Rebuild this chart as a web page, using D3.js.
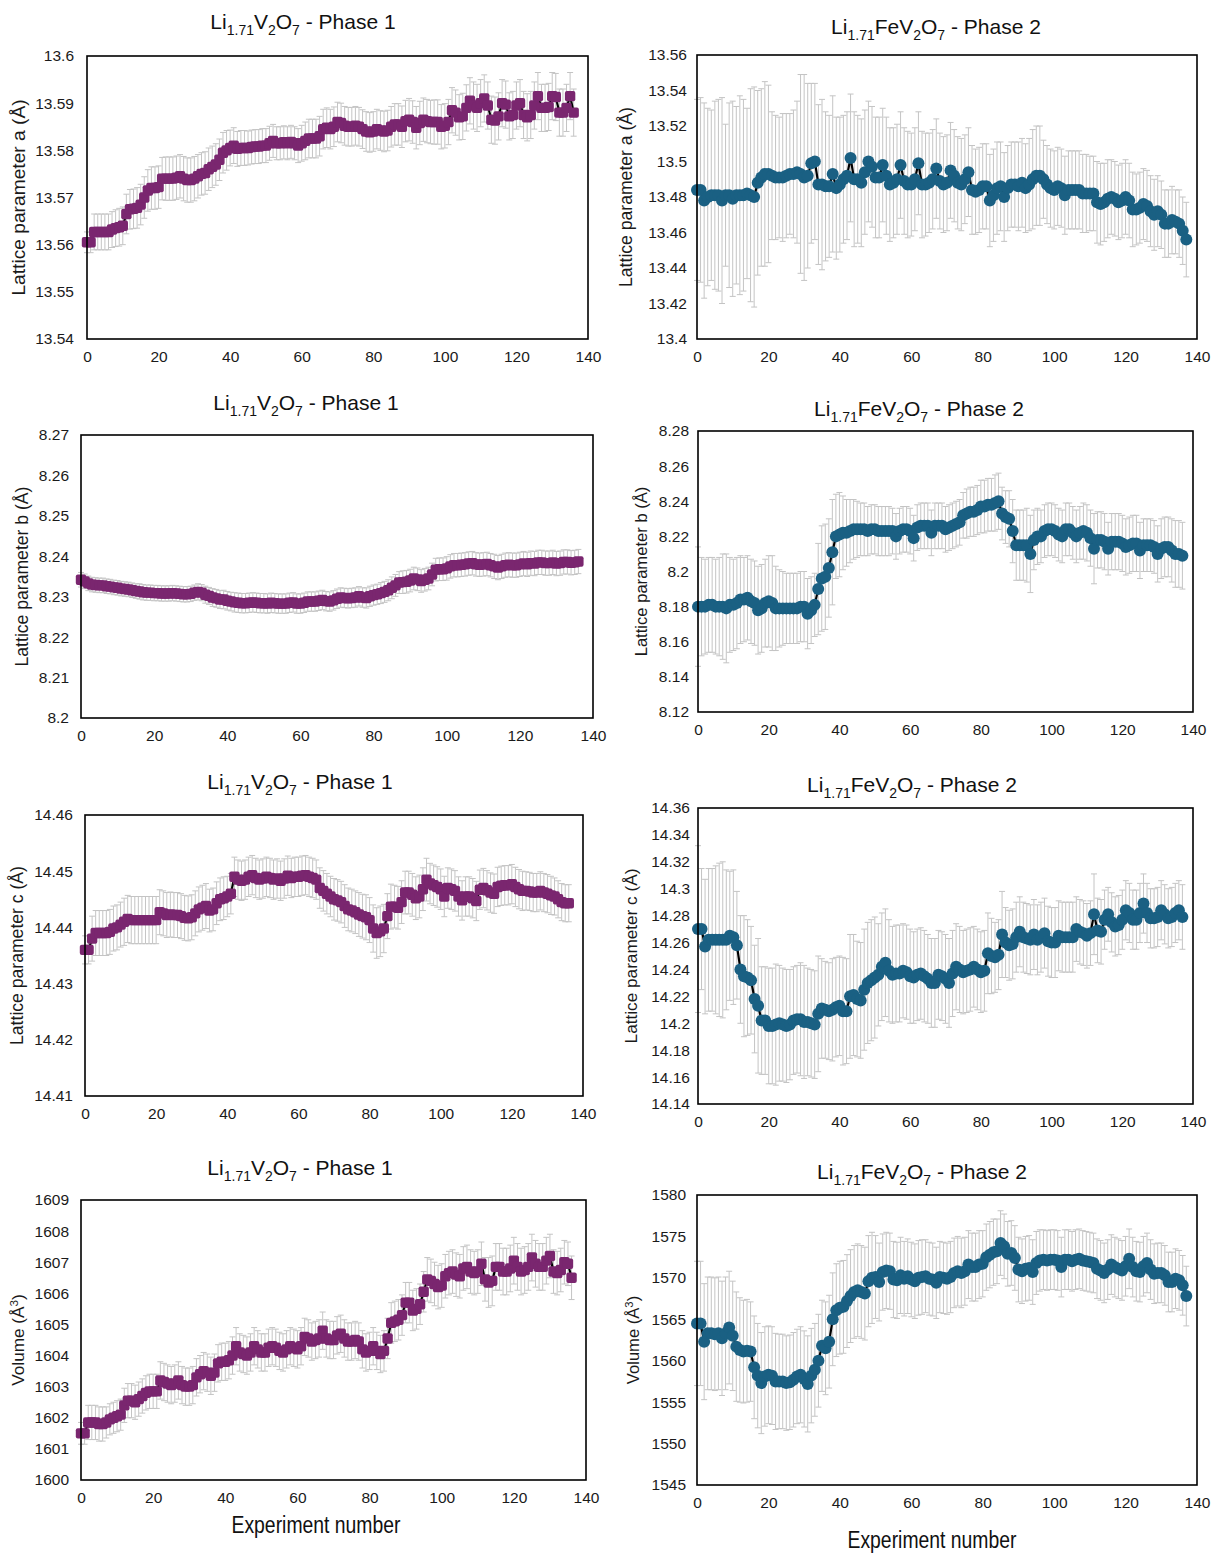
<!DOCTYPE html>
<html><head><meta charset="utf-8">
<script src="https://cdn.jsdelivr.net/npm/d3@7"></script>
<style>body{margin:0;background:#fff}svg{display:block}</style>
</head><body>
<script>
// ---------------- DATA ----------------
const xTickLabels = ["0","20","40","60","80","100","120","140"];

const aP1Ticks = ["13.54","13.55","13.56","13.57","13.58","13.59","13.6"];
const aP2Ticks = ["13.4","13.42","13.44","13.46","13.48","13.5","13.52","13.54","13.56"];
const bP1Ticks = ["8.2","8.21","8.22","8.23","8.24","8.25","8.26","8.27"];
const bP2Ticks = ["8.12","8.14","8.16","8.18","8.2","8.22","8.24","8.26","8.28"];
const cP1Ticks = ["14.41","14.42","14.43","14.44","14.45","14.46"];
const cP2Ticks = ["14.14","14.16","14.18","14.2","14.22","14.24","14.26","14.28","14.3","14.32","14.34","14.36"];
const vP1Ticks = ["1600","1601","1602","1603","1604","1605","1606","1607","1608","1609"];
const vP2Ticks = ["1545","1550","1555","1560","1565","1570","1575","1580"];

// Phase 1 : experiments 0..136, Phase 2 : experiments 0..137
const aP1 = [13.5605,13.5605,13.5627,13.5627,13.5627,13.5627,13.5627,13.5632,13.5635,13.5637,
13.5640,13.5665,13.5675,13.5676,13.5678,13.5685,13.5700,13.5715,13.5720,13.5720,
13.5722,13.5740,13.5740,13.5740,13.5740,13.5742,13.5745,13.5740,13.5737,13.5737,
13.5740,13.5745,13.5750,13.5752,13.5760,13.5765,13.5770,13.5780,13.5795,13.5800,
13.5805,13.5810,13.5803,13.5805,13.5805,13.5805,13.5807,13.5808,13.5808,13.5810,
13.5810,13.5815,13.5820,13.5815,13.5815,13.5817,13.5815,13.5818,13.5815,13.5810,
13.5815,13.5820,13.5825,13.5825,13.5825,13.5830,13.5845,13.5848,13.5845,13.5850,
13.5860,13.5858,13.5852,13.5850,13.5850,13.5852,13.5850,13.5845,13.5840,13.5838,
13.5840,13.5845,13.5842,13.5840,13.5842,13.5850,13.5855,13.5855,13.5850,13.5862,
13.5865,13.5860,13.5848,13.5858,13.5865,13.5862,13.5860,13.5860,13.5860,13.5850,
13.5852,13.5860,13.5885,13.5880,13.5870,13.5872,13.5890,13.5905,13.5895,13.5890,
13.5900,13.5910,13.5895,13.5865,13.5863,13.5872,13.5900,13.5897,13.5872,13.5875,
13.5895,13.5900,13.5875,13.5870,13.5875,13.5895,13.5915,13.5890,13.5890,13.5892,
13.5915,13.5913,13.5880,13.5880,13.5890,13.5915,13.5880];
const aP1Err = [.0022,.0022,.0038,.0038,.0038,.0038,.0038,.0038,.0039,.0040,
.0040,.0042,.0042,.0042,.0043,.0043,.0044,.0044,.0045,.0045,
.0045,.0045,.0046,.0046,.0046,.0046,.0046,.0047,.0047,.0047,
.0047,.0046,.0045,.0045,.0045,.0044,.0044,.0044,.0043,.0042,
.0038,.0038,.0037,.0037,.0037,.0036,.0036,.0036,.0036,.0036,
.0036,.0036,.0035,.0035,.0035,.0035,.0035,.0035,.0035,.0036,
.0038,.0040,.0041,.0041,.0041,.0042,.0042,.0042,.0042,.0042,
.0042,.0042,.0041,.0041,.0041,.0041,.0041,.0041,.0042,.0042,
.0042,.0042,.0042,.0043,.0043,.0043,.0044,.0044,.0044,.0044,
.0045,.0045,.0045,.0046,.0046,.0046,.0046,.0047,.0047,.0047,
.0047,.0048,.0048,.0048,.0048,.0049,.0049,.0049,.0050,.0050,
.0050,.0050,.0050,.0050,.0050,.0050,.0050,.0050,.0050,.0050,
.0050,.0050,.0050,.0050,.0050,.0050,.0050,.0050,.0050,.0050,
.0050,.0050,.0050,.0050,.0050,.0050,.0050];

const aP2 = [13.484,13.484,13.478,13.480,13.481,13.481,13.481,13.478,13.481,13.481,
13.479,13.481,13.481,13.481,13.482,13.481,13.480,13.488,13.491,13.493,
13.493,13.492,13.491,13.491,13.491,13.492,13.493,13.493,13.494,13.493,
13.491,13.492,13.499,13.500,13.487,13.487,13.486,13.486,13.493,13.485,
13.487,13.490,13.492,13.502,13.490,13.490,13.488,13.494,13.500,13.497,
13.491,13.491,13.498,13.492,13.487,13.488,13.490,13.498,13.489,13.487,
13.487,13.490,13.499,13.487,13.487,13.488,13.490,13.496,13.489,13.487,
13.488,13.495,13.492,13.488,13.487,13.490,13.494,13.484,13.483,13.484,
13.486,13.486,13.478,13.481,13.485,13.486,13.480,13.485,13.487,13.487,
13.486,13.488,13.485,13.487,13.490,13.492,13.492,13.490,13.487,13.485,
13.484,13.486,13.485,13.481,13.484,13.484,13.484,13.484,13.482,13.482,
13.482,13.482,13.477,13.476,13.477,13.479,13.480,13.479,13.477,13.478,
13.480,13.478,13.473,13.473,13.474,13.476,13.475,13.472,13.470,13.472,
13.470,13.465,13.465,13.467,13.466,13.465,13.461,13.456];
const aP2Err = [.051,.052,.055,.050,.048,.053,.054,.058,.040,.052,
.055,.050,.056,.054,.048,.060,.062,.052,.050,.052,
.050,.036,.035,.034,.036,.035,.034,.036,.040,.056,
.058,.052,.045,.044,.045,.048,.042,.040,.044,.040,
.038,.036,.036,.036,.038,.036,.036,.035,.034,.034,
.034,.034,.032,.033,.032,.031,.031,.030,.030,.030,
.029,.029,.029,.030,.029,.028,.028,.028,.027,.027,
.027,.027,.026,.026,.026,.025,.025,.025,.024,.024,
.024,.024,.026,.026,.026,.025,.025,.024,.024,.024,
.025,.025,.025,.026,.028,.028,.028,.022,.022,.022,
.022,.022,.022,.022,.022,.022,.022,.022,.022,.022,
.021,.021,.023,.023,.022,.022,.021,.021,.021,.021,
.021,.021,.021,.020,.020,.020,.020,.020,.020,.020,
.019,.019,.019,.019,.018,.019,.019,.021];

const bP1 = [8.2342,8.2338,8.2333,8.2330,8.2329,8.2328,8.2328,8.2326,8.2325,8.2323,
8.2322,8.2320,8.2319,8.2318,8.2316,8.2314,8.2313,8.2311,8.2310,8.2310,
8.2309,8.2309,8.2308,8.2308,8.2308,8.2309,8.2308,8.2307,8.2306,8.2306,
8.2307,8.2310,8.2312,8.2310,8.2305,8.2302,8.2298,8.2296,8.2293,8.2293,
8.2290,8.2288,8.2286,8.2285,8.2284,8.2284,8.2285,8.2286,8.2285,8.2284,
8.2284,8.2283,8.2285,8.2284,8.2283,8.2283,8.2283,8.2285,8.2286,8.2283,
8.2283,8.2285,8.2288,8.2288,8.2288,8.2290,8.2292,8.2289,8.2288,8.2291,
8.2295,8.2298,8.2297,8.2296,8.2297,8.2298,8.2301,8.2298,8.2297,8.2301,
8.2304,8.2306,8.2309,8.2312,8.2316,8.2322,8.2328,8.2335,8.2336,8.2337,
8.2340,8.2345,8.2343,8.2339,8.2342,8.2345,8.2355,8.2367,8.2368,8.2368,
8.2370,8.2375,8.2378,8.2378,8.2379,8.2380,8.2382,8.2383,8.2380,8.2379,
8.2380,8.2381,8.2378,8.2375,8.2372,8.2375,8.2378,8.2379,8.2378,8.2378,
8.2380,8.2382,8.2380,8.2383,8.2382,8.2385,8.2385,8.2383,8.2383,8.2385,
8.2382,8.2383,8.2386,8.2386,8.2384,8.2385,8.2387];
const bP1Err = [.0018,.0018,.0018,.0018,.0018,.0018,.0018,.0018,.0018,.0018,
.0018,.0018,.0018,.0018,.0018,.0018,.0019,.0019,.0019,.0019,
.0019,.0019,.0019,.0019,.0019,.0019,.0019,.0019,.0019,.0019,
.0019,.0019,.0020,.0020,.0021,.0021,.0022,.0022,.0022,.0023,
.0023,.0023,.0024,.0024,.0024,.0024,.0024,.0024,.0024,.0024,
.0024,.0024,.0024,.0024,.0024,.0024,.0024,.0024,.0024,.0024,
.0024,.0024,.0024,.0024,.0024,.0024,.0024,.0024,.0024,.0024,
.0024,.0024,.0024,.0024,.0024,.0024,.0024,.0024,.0025,.0025,
.0025,.0025,.0026,.0026,.0026,.0027,.0027,.0027,.0028,.0028,
.0028,.0028,.0028,.0028,.0028,.0028,.0028,.0028,.0028,.0028,
.0029,.0029,.0029,.0029,.0029,.0029,.0029,.0029,.0029,.0029,
.0029,.0029,.0029,.0030,.0030,.0030,.0030,.0030,.0030,.0030,
.0030,.0030,.0030,.0030,.0030,.0030,.0030,.0030,.0030,.0030,
.0030,.0030,.0030,.0030,.0030,.0030,.0030];

const bP2 = [8.180,8.180,8.180,8.181,8.181,8.180,8.180,8.180,8.179,8.181,
8.181,8.182,8.184,8.184,8.185,8.183,8.182,8.178,8.179,8.182,
8.183,8.182,8.179,8.179,8.179,8.179,8.179,8.179,8.179,8.180,
8.180,8.176,8.178,8.181,8.190,8.196,8.197,8.202,8.211,8.220,
8.221,8.222,8.222,8.223,8.224,8.224,8.224,8.224,8.223,8.224,
8.224,8.223,8.223,8.223,8.223,8.223,8.220,8.223,8.224,8.224,
8.223,8.219,8.225,8.226,8.226,8.226,8.222,8.226,8.226,8.226,
8.224,8.225,8.226,8.227,8.228,8.232,8.233,8.234,8.234,8.235,
8.237,8.237,8.238,8.238,8.239,8.240,8.233,8.231,8.230,8.223,
8.215,8.215,8.215,8.215,8.210,8.218,8.220,8.220,8.223,8.224,
8.224,8.223,8.221,8.220,8.224,8.224,8.222,8.220,8.222,8.223,
8.222,8.219,8.213,8.218,8.218,8.217,8.213,8.217,8.217,8.217,
8.216,8.214,8.215,8.216,8.216,8.212,8.215,8.215,8.215,8.214,
8.210,8.213,8.214,8.214,8.212,8.210,8.210,8.209];
const bP2Err = [.034,.028,.027,.027,.027,.027,.028,.030,.031,.027,
.026,.026,.025,.024,.024,.024,.024,.025,.025,.025,
.026,.027,.024,.022,.021,.020,.020,.020,.020,.020,
.020,.020,.019,.018,.026,.030,.030,.028,.030,.024,
.024,.021,.019,.018,.017,.016,.015,.015,.014,.014,
.014,.014,.014,.014,.014,.013,.013,.013,.013,.013,
.013,.013,.013,.013,.013,.013,.013,.013,.013,.013,
.013,.013,.013,.013,.013,.013,.014,.014,.014,.014,
.015,.015,.015,.015,.016,.016,.015,.015,.016,.018,
.020,.020,.020,.021,.022,.017,.016,.015,.015,.015,
.015,.015,.015,.015,.015,.015,.015,.015,.015,.016,
.016,.016,.020,.016,.016,.016,.015,.016,.016,.016,
.016,.016,.016,.016,.016,.016,.015,.015,.015,.015,
.016,.017,.017,.017,.018,.019,.019,.019];

const cP1 = [14.4360,14.4360,14.4380,14.4390,14.4390,14.4390,14.4390,14.4392,14.4398,14.4400,
14.4405,14.4410,14.4415,14.4413,14.4413,14.4413,14.4413,14.4413,14.4413,14.4413,
14.4413,14.4427,14.4425,14.4422,14.4423,14.4422,14.4422,14.4420,14.4417,14.4416,
14.4418,14.4425,14.4432,14.4435,14.4438,14.4430,14.4432,14.4443,14.4450,14.4452,
14.4455,14.4460,14.4490,14.4485,14.4483,14.4485,14.4490,14.4493,14.4488,14.4485,
14.4487,14.4490,14.4488,14.4485,14.4487,14.4483,14.4487,14.4492,14.4488,14.4490,
14.4490,14.4492,14.4493,14.4490,14.4488,14.4485,14.4470,14.4465,14.4460,14.4455,
14.4450,14.4448,14.4445,14.4438,14.4432,14.4430,14.4427,14.4423,14.4420,14.4418,
14.4413,14.4398,14.4390,14.4393,14.4398,14.4420,14.4437,14.4437,14.4435,14.4445,
14.4462,14.4462,14.4458,14.4452,14.4455,14.4468,14.4485,14.4478,14.4475,14.4472,
14.4468,14.4455,14.4470,14.4468,14.4465,14.4455,14.4448,14.4455,14.4455,14.4452,
14.4447,14.4467,14.4470,14.4466,14.4462,14.4460,14.4472,14.4474,14.4475,14.4475,
14.4477,14.4472,14.4468,14.4465,14.4465,14.4464,14.4462,14.4462,14.4465,14.4462,
14.4460,14.4457,14.4455,14.4450,14.4445,14.4443,14.4443];
const cP1Err = [.0025,.0025,.0040,.0040,.0040,.0040,.0040,.0040,.0040,.0040,
.0040,.0042,.0042,.0042,.0042,.0042,.0042,.0042,.0042,.0042,
.0042,.0040,.0040,.0040,.0040,.0040,.0040,.0040,.0040,.0040,
.0040,.0040,.0040,.0040,.0040,.0038,.0038,.0038,.0038,.0038,
.0036,.0036,.0035,.0035,.0035,.0035,.0035,.0035,.0035,.0035,
.0035,.0035,.0035,.0035,.0035,.0035,.0035,.0035,.0035,.0035,
.0035,.0035,.0035,.0035,.0035,.0035,.0036,.0036,.0036,.0036,
.0037,.0037,.0037,.0038,.0038,.0038,.0038,.0039,.0039,.0040,
.0040,.0042,.0045,.0045,.0043,.0040,.0040,.0038,.0038,.0038,
.0038,.0038,.0038,.0038,.0038,.0038,.0038,.0036,.0036,.0036,
.0036,.0036,.0036,.0036,.0036,.0035,.0035,.0035,.0035,.0035,
.0035,.0035,.0035,.0035,.0035,.0035,.0035,.0035,.0035,.0035,
.0035,.0035,.0035,.0035,.0034,.0034,.0034,.0034,.0034,.0034,
.0034,.0034,.0033,.0033,.0033,.0033,.0033];

const cP2 = [14.270,14.270,14.257,14.262,14.262,14.262,14.262,14.262,14.262,14.265,
14.264,14.258,14.240,14.235,14.234,14.232,14.218,14.213,14.202,14.202,
14.198,14.198,14.199,14.200,14.199,14.198,14.199,14.202,14.203,14.203,
14.201,14.201,14.200,14.199,14.207,14.211,14.210,14.209,14.210,14.212,
14.213,14.209,14.209,14.220,14.221,14.218,14.217,14.225,14.230,14.232,
14.234,14.236,14.242,14.245,14.239,14.236,14.237,14.237,14.239,14.238,
14.235,14.234,14.236,14.237,14.235,14.233,14.230,14.230,14.236,14.235,
14.233,14.230,14.237,14.242,14.240,14.238,14.239,14.240,14.242,14.240,
14.238,14.239,14.252,14.250,14.249,14.251,14.266,14.260,14.258,14.259,
14.264,14.268,14.264,14.263,14.262,14.266,14.262,14.264,14.267,14.261,
14.260,14.260,14.265,14.264,14.264,14.264,14.264,14.270,14.268,14.267,
14.265,14.267,14.281,14.269,14.268,14.277,14.281,14.275,14.272,14.273,
14.277,14.284,14.282,14.277,14.277,14.282,14.289,14.282,14.278,14.278,
14.279,14.284,14.281,14.278,14.279,14.282,14.284,14.279];
const cP2Err = [.062,.045,.050,.053,.053,.055,.057,.058,.052,.048,
.050,.040,.040,.045,.043,.040,.040,.050,.040,.040,
.043,.043,.045,.043,.042,.042,.041,.040,.040,.042,
.042,.040,.040,.040,.043,.037,.036,.036,.038,.037,
.037,.040,.039,.046,.045,.043,.043,.045,.045,.045,
.045,.038,.040,.040,.038,.036,.036,.036,.035,.035,
.035,.034,.034,.034,.034,.033,.033,.033,.033,.033,
.033,.033,.032,.032,.032,.031,.031,.031,.030,.030,
.030,.030,.030,.028,.026,.026,.032,.026,.026,.026,
.026,.026,.026,.026,.026,.026,.026,.026,.026,.026,
.026,.026,.026,.026,.026,.026,.026,.024,.024,.024,
.024,.024,.030,.024,.024,.022,.020,.022,.022,.022,
.022,.022,.022,.022,.022,.022,.022,.022,.022,.022,
.022,.022,.022,.022,.022,.022,.022,.024];

const vP1 = [1601.50,1601.50,1601.85,1601.85,1601.85,1601.80,1601.80,1601.85,1601.95,1602.00,
1602.05,1602.10,1602.40,1602.55,1602.55,1602.50,1602.60,1602.70,1602.80,1602.85,
1602.85,1602.85,1603.20,1603.15,1603.10,1603.05,1603.10,1603.20,1603.05,1603.00,
1603.00,1603.05,1603.30,1603.40,1603.50,1603.45,1603.35,1603.45,1603.75,1603.80,
1603.80,1603.85,1604.00,1604.30,1604.10,1604.05,1604.00,1604.10,1604.30,1604.20,
1604.10,1604.10,1604.25,1604.30,1604.25,1604.15,1604.10,1604.20,1604.30,1604.25,
1604.20,1604.30,1604.60,1604.55,1604.45,1604.50,1604.55,1604.80,1604.55,1604.50,
1604.50,1604.65,1604.70,1604.55,1604.45,1604.45,1604.50,1604.45,1604.20,1604.10,
1604.15,1604.30,1604.15,1604.05,1604.15,1604.55,1605.05,1605.10,1605.15,1605.30,
1605.70,1605.70,1605.45,1605.50,1605.65,1606.05,1606.45,1606.40,1606.30,1606.20,
1606.25,1606.55,1606.65,1606.70,1606.60,1606.55,1606.80,1606.85,1606.70,1606.65,
1606.70,1606.95,1606.45,1606.35,1606.40,1606.85,1606.85,1606.70,1606.70,1606.80,
1607.05,1606.85,1606.70,1606.75,1606.85,1607.15,1606.95,1606.85,1606.85,1607.05,
1607.20,1606.70,1606.65,1606.75,1607.00,1606.95,1606.50];
const vP1Err = [.35,.35,.55,.55,.55,.55,.55,.5,.5,.5,
.5,.5,.55,.55,.55,.55,.55,.55,.55,.55,
.55,.55,.6,.6,.6,.6,.6,.6,.6,.6,
.6,.6,.6,.6,.6,.6,.6,.6,.6,.6,
.6,.6,.6,.6,.6,.6,.6,.6,.6,.6,
.6,.6,.6,.6,.6,.6,.6,.6,.6,.6,
.6,.6,.6,.6,.6,.6,.6,.6,.6,.6,
.6,.6,.6,.6,.6,.6,.6,.6,.6,.6,
.6,.6,.6,.6,.65,.65,.65,.65,.65,.65,
.65,.65,.65,.65,.65,.65,.7,.7,.7,.7,
.7,.7,.7,.7,.7,.7,.7,.7,.7,.7,
.7,.7,.7,.8,.8,.75,.75,.75,.75,.75,
.75,.75,.75,.75,.75,.75,.75,.75,.75,.75,
.7,.7,.7,.7,.7,.7,.7];

const vP2 = [1564.5,1564.5,1562.3,1563.3,1563.3,1563.2,1563.3,1562.7,1563.3,1564.0,
1563.0,1561.7,1561.3,1561.1,1561.2,1561.1,1559.2,1558.2,1557.3,1558.1,
1558.3,1558.2,1557.5,1557.5,1557.5,1557.3,1557.4,1557.7,1558.1,1558.3,
1557.8,1557.2,1558.2,1558.9,1560.0,1561.8,1561.5,1562.3,1565.0,1566.1,
1566.4,1566.5,1567.2,1567.8,1568.3,1568.5,1568.3,1568.1,1569.6,1570.0,
1570.1,1569.5,1570.7,1570.9,1570.8,1569.8,1569.7,1570.3,1569.9,1570.2,
1569.8,1569.6,1570.0,1570.1,1570.2,1569.9,1569.8,1569.4,1570.1,1570.0,
1569.9,1570.1,1570.6,1570.8,1570.6,1570.8,1571.6,1571.3,1571.3,1571.6,
1571.7,1572.5,1572.8,1573.1,1573.2,1574.2,1573.8,1572.9,1573.0,1572.4,
1571.0,1570.8,1571.1,1571.2,1570.7,1571.8,1572.1,1572.2,1572.1,1572.2,
1572.2,1572.1,1571.3,1572.2,1572.2,1572.0,1572.2,1572.3,1572.1,1572.0,
1571.9,1571.8,1571.1,1570.9,1570.6,1571.0,1571.6,1571.3,1571.1,1570.9,
1571.4,1572.3,1571.3,1570.8,1570.7,1571.4,1571.8,1571.0,1570.5,1570.6,
1570.6,1570.3,1569.5,1569.5,1569.9,1569.7,1569.1,1567.8];
const vP2Err = [7.5,7.5,7.0,6.8,6.8,6.8,6.8,6.9,6.8,6.8,
6.6,6.6,6.3,6.2,6.2,6.0,6.2,6.3,6.1,6.0,
5.9,5.9,5.8,5.7,5.7,5.7,5.7,5.7,5.7,5.8,
5.8,5.8,5.7,5.6,5.6,5.5,5.6,5.6,5.6,5.6,
5.6,5.6,5.6,5.6,5.6,5.6,5.6,5.6,5.5,5.5,
5.0,4.7,4.6,4.6,4.6,4.6,4.6,4.6,4.5,4.5,
4.5,4.5,4.5,4.5,4.4,4.4,4.4,4.3,4.3,4.3,
4.3,4.3,4.2,4.2,4.2,4.1,4.1,4.1,4.1,4.1,
4.0,4.0,4.0,4.0,3.9,3.9,3.9,3.9,3.9,3.9,
3.9,3.9,3.9,3.9,3.9,3.8,3.7,3.6,3.6,3.6,
3.6,3.6,3.6,3.6,3.6,3.6,3.6,3.6,3.6,3.6,
3.6,3.6,3.6,3.6,3.6,3.6,3.6,3.6,3.6,3.6,
3.6,3.6,3.6,3.6,3.6,3.6,3.6,3.6,3.6,3.6,
3.6,3.6,3.6,3.6,3.6,3.6,3.6,3.6];

// ---------------- DRAW ----------------
const W = 1213, H = 1554;
const FONT = "'Liberation Sans', Arial, sans-serif";
const PURPLE = "#7a266f", TEAL = "#1a6083";

const svg = d3.select("body").append("svg").attr("width", W).attr("height", H)
  .style("font-family", FONT);
svg.append("rect").attr("width", W).attr("height", H).attr("fill", "#fff");

const panels = [
  {vals:aP1, err:aP1Err, ticks:aP1Ticks, phase:1, x0:87, x1:588, y0:56, y1:339, tx:303, ty:29, lx:18, lf:19.2, pad:13, label:"Lattice parameter a (Å)"},
  {vals:aP2, err:aP2Err, ticks:aP2Ticks, phase:2, x0:697, x1:1197, y0:55, y1:339, tx:936, ty:34, lx:626, lf:17.6, pad:10, label:"Lattice parameter a (Å)"},
  {vals:bP1, err:bP1Err, ticks:bP1Ticks, phase:1, x0:81, x1:593, y0:435, y1:718, tx:306, ty:410, lx:22, lf:17.6, pad:12, label:"Lattice parameter b (Å)"},
  {vals:bP2, err:bP2Err, ticks:bP2Ticks, phase:2, x0:698, x1:1193, y0:431, y1:712, tx:919, ty:416, lx:641, lf:16.6, pad:9, label:"Lattice parameter b (Å)"},
  {vals:cP1, err:cP1Err, ticks:cP1Ticks, phase:1, x0:85, x1:583, y0:815, y1:1096, tx:300, ty:789, lx:17, lf:17.6, pad:12, label:"Lattice parameter c (Å)"},
  {vals:cP2, err:cP2Err, ticks:cP2Ticks, phase:2, x0:698, x1:1193, y0:808, y1:1104, tx:912, ty:792, lx:631, lf:17.2, pad:8, label:"Lattice parameter c (Å)"},
  {vals:vP1, err:vP1Err, ticks:vP1Ticks, phase:1, x0:81, x1:586, y0:1200, y1:1480, tx:300, ty:1175, lx:18, lf:17.2, pad:12, label:"vol", xt:{x:316, y:1533}},
  {vals:vP2, err:vP2Err, ticks:vP2Ticks, phase:2, x0:697, x1:1197, y0:1195, y1:1485, tx:922, ty:1179, lx:633, lf:16.6, pad:11, label:"vol", xt:{x:932, y:1548}}
];

function title(sel, p) {
  const t = sel.append("text").attr("x", p.tx).attr("y", p.ty).attr("text-anchor", "middle")
    .attr("font-size", 21).attr("fill", "#111");
  const parts = p.phase === 1
    ? [["Li",0],["1.71",1],["V",0],["2",1],["O",0],["7",1],[" - Phase 1",0]]
    : [["Li",0],["1.71",1],["FeV",0],["2",1],["O",0],["7",1],[" - Phase 2",0]];
  let sub = 0;
  parts.forEach(([s, isSub]) => {
    const ts = t.append("tspan").text(s);
    if (isSub && !sub) { ts.attr("dy", 5.5).attr("font-size", 14); sub = 1; }
    else if (isSub) { ts.attr("font-size", 14); }
    else if (sub) { ts.attr("dy", -5.5); sub = 0; }
  });
}

panels.forEach(p => {
  const x = d3.scaleLinear().domain([0, 140]).range([p.x0, p.x1]);
  const yv = p.ticks.map(Number);
  const y = d3.scaleLinear().domain([yv[0], yv[yv.length - 1]]).range([p.y1, p.y0]);
  const g = svg.append("g");
  const color = p.phase === 1 ? PURPLE : TEAL;

  // axes (labels only, no tick marks)
  const ya = g.append("g").attr("transform", `translate(${p.x0},0)`)
    .call(d3.axisLeft(y).tickValues(yv).tickFormat((d, i) => p.ticks[i]).tickSize(0).tickPadding(p.pad));
  const xa = g.append("g").attr("transform", `translate(0,${p.y1})`)
    .call(d3.axisBottom(x).tickValues(xTickLabels.map(Number)).tickFormat((d, i) => xTickLabels[i]).tickSize(0).tickPadding(12));
  [ya, xa].forEach(a => {
    a.select(".domain").remove();
    a.attr("font-family", FONT).attr("font-size", 15.5);
    a.selectAll("text").attr("fill", "#1a1a1a");
  });

  // error bars
  const eb = g.append("g").attr("stroke", "#c4c4c4").attr("stroke-width", 1).attr("fill", "none");
  const data = p.vals.map((v, i) => ({i, v, e: p.err[i]}));
  eb.selectAll("path").data(data).join("path")
    .attr("d", d => {
      const cx = x(d.i), t = y(d.v + d.e), b = y(d.v - d.e);
      return `M${cx},${t}V${b}M${cx - 3},${t}H${cx + 3}M${cx - 3},${b}H${cx + 3}`;
    });

  // connecting line
  g.append("path").datum(data)
    .attr("fill", "none").attr("stroke", "#000").attr("stroke-width", 2.2)
    .attr("d", d3.line().x(d => x(d.i)).y(d => y(d.v)));

  // markers
  if (p.phase === 1) {
    g.append("g").selectAll("rect").data(data).join("rect")
      .attr("x", d => x(d.i) - 5.2).attr("y", d => y(d.v) - 5.2)
      .attr("width", 10.4).attr("height", 10.4).attr("rx", 2).attr("fill", color);
  } else {
    g.append("g").selectAll("circle").data(data).join("circle")
      .attr("cx", d => x(d.i)).attr("cy", d => y(d.v)).attr("r", 6).attr("fill", color);
  }

  // frame
  g.append("rect").attr("x", p.x0).attr("y", p.y0).attr("width", p.x1 - p.x0).attr("height", p.y1 - p.y0)
    .attr("fill", "none").attr("stroke", "#000").attr("stroke-width", 1.6);

  title(g, p);

  // y label
  const cy = (p.y0 + p.y1) / 2;
  const yl = g.append("text").attr("transform", `translate(${p.lx},${cy}) rotate(-90)`)
    .attr("text-anchor", "middle").attr("dy", "0.35em").attr("font-size", p.lf).attr("fill", "#1a1a1a");
  if (p.label === "vol") {
    yl.append("tspan").text("Volume (Å");
    yl.append("tspan").text("3").attr("font-size", p.lf * 0.68).attr("dy", -6);
    yl.append("tspan").text(")").attr("dy", 6);
  } else {
    yl.text(p.label);
  }

  if (p.xt) {
    g.append("text").attr("x", p.xt.x).attr("y", p.xt.y).attr("text-anchor", "middle")
      .attr("font-family", "'Liberation Sans Narrow', 'Liberation Sans', Arial, sans-serif")
      .attr("font-size", 23).attr("fill", "#111")
      .attr("textLength", 169).attr("lengthAdjust", "spacingAndGlyphs")
      .text("Experiment number");
  }
});
</script>
</body></html>
